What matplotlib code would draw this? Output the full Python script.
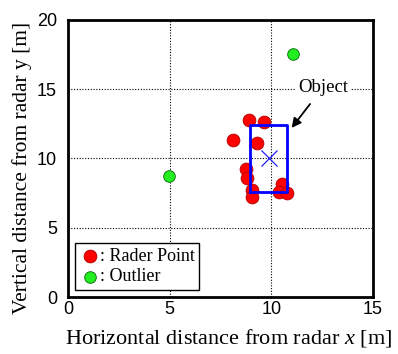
import numpy as np
import matplotlib.pyplot as plt

plt.rcParams['mathtext.fontset'] = 'custom'
plt.rcParams['mathtext.it'] = 'Liberation Serif:italic'
plt.rcParams['mathtext.rm'] = 'Liberation Serif'

# radar points
radar_x = [8.9, 9.65, 8.1, 9.3, 8.75, 8.8, 9.05, 9.05, 10.55, 10.4, 10.75]
radar_y = [12.8, 12.65, 11.3, 11.1, 9.25, 8.6, 7.75, 7.2, 8.15, 7.55, 7.5]
outlier_x = [4.95, 11.05]
outlier_y = [8.75, 17.5]
# object box
box_x0, box_x1 = 8.95, 10.75
box_y0, box_y1 = 7.55, 12.4
center = (9.9, 10.0)

fig = plt.figure(figsize=(3.98, 3.54), dpi=100)
ax = fig.add_axes([0.171, 0.161, 0.766, 0.783])

serif = ['Liberation Serif', 'DejaVu Serif']
sans = ['Liberation Sans', 'DejaVu Sans']

ax.grid(True, color='black', linestyle=(0, (1, 1.5)), linewidth=0.8)
ax.set_axisbelow(True)

ax.scatter(radar_x, radar_y, s=85, c='#ff0000', edgecolors='#b00000', linewidths=0.6, zorder=3,
           label=': Rader Point')
ax.scatter(outlier_x, outlier_y, s=70, c='#22ee22', edgecolors='#006600', linewidths=0.6, zorder=3,
           label=': Outlier')
ax.plot([box_x0, box_x1, box_x1, box_x0, box_x0], [box_y0, box_y0, box_y1, box_y1, box_y0],
        color='#0000ff', linewidth=2, zorder=4)
ax.plot(center[0], center[1], 'x', color='#2020ff', markersize=12, markeredgewidth=0.9, zorder=5)

ax.annotate('Object', xy=(11.0, 12.2), xytext=(12.55, 15.15), family=serif, fontsize=13.5,
            ha='center', va='center',
            bbox=dict(boxstyle='square,pad=0.1', fc='white', ec='none'),
            arrowprops=dict(arrowstyle='-|>', color='black', lw=1.3, mutation_scale=14,
                            shrinkA=6, shrinkB=0))

ax.set_xlim(0, 15)
ax.set_ylim(0, 20)
ax.set_xticks([0, 5, 10, 15])
ax.set_yticks([0, 5, 10, 15, 20])
for lab in ax.get_xticklabels() + ax.get_yticklabels():
    lab.set_family(sans)
    lab.set_fontsize(13)
ax.tick_params(axis='x', length=0, pad=3)
ax.tick_params(axis='y', length=0, pad=8)
for sp in ax.spines.values():
    sp.set_linewidth(2)

ax.set_xlabel('Horizontal distance from radar $x$ [m]', family=serif, fontsize=16)
ax.set_ylabel('Vertical distance from radar y [m]', family=serif, fontsize=15.5)
ax.xaxis.set_label_coords(0.528, -0.11)
ax.yaxis.set_label_coords(-0.118, 0.466)

leg = ax.legend(loc='lower left', prop={'family': serif, 'size': 13}, fancybox=False,
                edgecolor='black', framealpha=1, handletextpad=0.0, borderpad=0.25,
                labelspacing=0.2, borderaxespad=0.4, handlelength=1.1, scatterpoints=1)
leg.get_frame().set_linewidth(1.0)

fig.savefig('out.png', dpi=100)
